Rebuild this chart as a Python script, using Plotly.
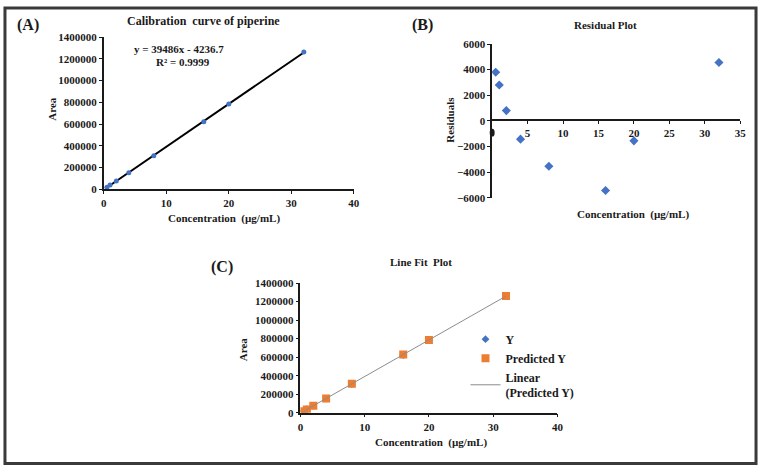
import plotly.graph_objects as go

W, H = 764, 472

# ---- data ----
conc = [0.5, 1, 2, 4, 8, 16, 20, 32]
area = [19300, 38050, 75530, 152300, 308100, 622140, 783930, 1263870]
predicted = [15506, 35249, 74735, 153707, 311651, 627539, 785483, 1259315]
residuals = [3800, 2800, 800, -1430, -3550, -5440, -1560, 4560]

y_ticks_area = [0, 200000, 400000, 600000, 800000, 1000000, 1200000, 1400000]
x_ticks_conc = [0, 10, 20, 30, 40]
x_ticks_res = [5, 10, 15, 20, 25, 30, 35]
y_ticks_res = [-6000, -4000, -2000, 0, 2000, 4000, 6000]

BLUE = "#4472C4"
ORANGE = "#ED7D31"
FONT = "Liberation Serif"


def px(x):
    return x / W


def py(y):
    return 1 - y / H


fig = go.Figure()

# Panel A
fig.add_trace(go.Scatter(x=conc, y=predicted, mode="lines", line=dict(color="black", width=2),
                         xaxis="x", yaxis="y", showlegend=False, hoverinfo="skip"))
fig.add_trace(go.Scatter(x=conc, y=area, mode="markers", marker=dict(color=BLUE, size=5, symbol="circle"),
                         xaxis="x", yaxis="y", showlegend=False))

# Panel B
fig.add_trace(go.Scatter(x=conc, y=residuals, mode="markers",
                         marker=dict(color=BLUE, size=7, symbol="diamond"),
                         xaxis="x2", yaxis="y2", showlegend=False))

# Panel C
fig.add_trace(go.Scatter(x=conc, y=area, mode="markers", name="Y",
                         marker=dict(color=BLUE, size=6, symbol="diamond"),
                         xaxis="x3", yaxis="y3"))
fig.add_trace(go.Scatter(x=conc, y=predicted, mode="markers", name="Predicted Y",
                         marker=dict(color=ORANGE, size=8, symbol="square"),
                         xaxis="x3", yaxis="y3"))
fig.add_trace(go.Scatter(x=conc, y=predicted, mode="lines", name="Linear<br>(Predicted Y)",
                         line=dict(color="#8c8c8c", width=1),
                         xaxis="x3", yaxis="y3"))

tickfont = dict(family=FONT, size=11, color="#1a1a1a", weight="bold")
axis_common = dict(showline=True, linecolor="#1a1a1a", linewidth=1.5, showgrid=False, zeroline=False,
                   ticks="outside", ticklen=3, tickcolor="#1a1a1a", tickfont=tickfont)

fig.update_layout(
    width=W, height=H, autosize=False,
    margin=dict(l=0, r=0, t=0, b=0),
    paper_bgcolor="white", plot_bgcolor="rgba(0,0,0,0)",
    font=dict(family=FONT, color="#1a1a1a"),
    xaxis=dict(domain=[px(102), px(355)], range=[0, 40], tickvals=x_ticks_conc, anchor="y", **axis_common),
    yaxis=dict(domain=[py(188), py(32)], range=[0, 1400000], tickvals=y_ticks_area, tickformat="d",
               anchor="x", **axis_common),
    xaxis2=dict(domain=[px(495), px(746)], range=[0, 35], tickvals=x_ticks_res, anchor="free",
                position=py(117.3), **axis_common),
    yaxis2=dict(domain=[py(196.7), py(39)], range=[-6000, 6000], tickvals=y_ticks_res, tickformat="d",
                anchor="x2", **axis_common),
    xaxis3=dict(domain=[px(301), px(561)], range=[0, 40], tickvals=x_ticks_conc, anchor="y3", **axis_common),
    yaxis3=dict(domain=[py(417.3), py(284.3)], range=[0, 1400000], tickvals=y_ticks_area, tickformat="d",
                anchor="x3", **axis_common),
    legend=dict(x=px(468), y=py(327), xanchor="left", yanchor="top",
                font=dict(family=FONT, size=12, color="#1a1a1a", weight="bold"),
                bgcolor="rgba(0,0,0,0)", tracegroupgap=2, itemwidth=30),
)


def ann(text, x, y, size=11, angle=0, xanchor="center"):
    fig.add_annotation(text=f"<b>{text}</b>", x=px(x), y=py(y), xref="paper", yref="paper",
                       showarrow=False, textangle=angle, xanchor=xanchor, yanchor="middle",
                       font=dict(family=FONT, size=size, color="#1a1a1a"))


# Panel A texts
ann("(A)", 25, 20, size=16)
ann("Calibration  curve of piperine", 203, 15, size=12)
ann("y = 39486x - 4236.7", 178, 44, size=11)
ann("R² = 0.9999", 182, 57, size=11)
ann("Area", 50, 105, size=11, angle=-90)
ann("Concentration  (µg/mL)", 224, 218, size=11)

# Panel B texts
ann("(B)", 425, 20, size=16)
ann("Residual Plot", 610, 19, size=11)
ann("Residuals", 452, 117, size=11, angle=-90)
ann("Concentration  (µg/mL)", 638, 214, size=11)

# Panel C texts
ann("(C)", 222, 268, size=16)
ann("Line Fit  Plot", 423, 263, size=11)
ann("Area", 243, 352, size=11, angle=-90)
ann("Concentration  (µg/mL)", 433, 448, size=11)

# hidden "0" tick of residual plot appears as a dark blob
fig.add_shape(type="circle", xref="paper", yref="paper",
              x0=px(492.5), x1=px(497.5), y0=py(134), y1=py(126),
              fillcolor="#1a1a1a", line=dict(width=0))

# outer frame
fig.add_shape(type="rect", xref="paper", yref="paper",
              x0=px(2), x1=px(762), y0=py(469.5), y1=py(2),
              line=dict(color="#3a3a3a", width=3), fillcolor="rgba(0,0,0,0)")

fig.write_html("out.html")
